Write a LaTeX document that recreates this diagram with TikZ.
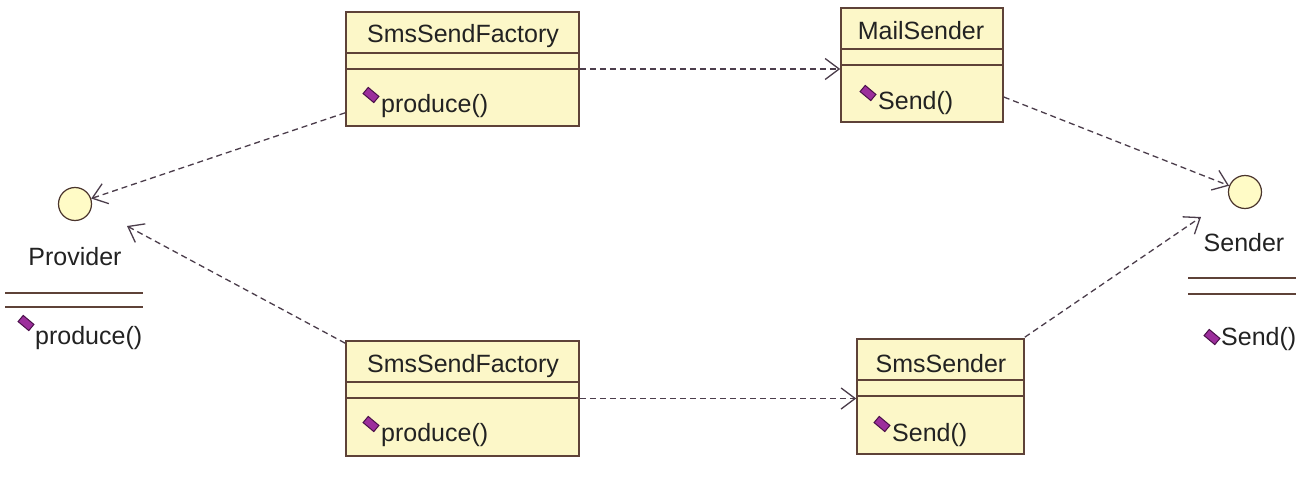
\documentclass[tikz,border=0pt]{standalone}
\usepackage{fontspec}
\setmainfont{Liberation Sans}
\usetikzlibrary{arrows.meta,calc,shapes.geometric}
\definecolor{boxfill}{HTML}{FCF7C8}
\definecolor{boxdraw}{HTML}{5E4238}
\definecolor{depcol}{HTML}{4B3D4B}
\definecolor{ifill}{HTML}{FFFBC6}
\definecolor{txtcol}{HTML}{222222}
\definecolor{diafill}{HTML}{9C2E9C}
\definecolor{diadraw}{HTML}{4A104A}
\tikzset{
  classbox/.style={draw=boxdraw, fill=boxfill, line width=1.6pt, rectangle, inner sep=0pt},
  sepline/.style={draw=boxdraw, line width=1.5pt},
  iface/.style={circle, draw=boxdraw!80!black, fill=ifill, line width=1.2pt, minimum size=33pt, inner sep=0pt},
  lbl/.style={font=\fontsize{25}{29}\selectfont, text=txtcol, inner sep=0pt},
  opdia/.style={rectangle, draw=diadraw, fill=diafill, line width=1pt, minimum width=14pt, minimum height=8pt, inner sep=0pt, rotate=-40},
  dep/.style={draw=depcol, line width=1.3pt, dash pattern=on 6pt off 4pt, -{Straight Barb[length=14pt,width=21pt,line width=1.3pt]}},
}
\begin{document}
\begin{tikzpicture}[x=1pt,y=-1pt]
\useasboundingbox[fill=white] (0,0) rectangle (1301,487);

% class boxes
\node[classbox, minimum width=233pt, minimum height=114pt] (f1) at (462.5,69) {};
\node[classbox, minimum width=233pt, minimum height=115pt] (f2) at (462.5,398.5) {};
\node[classbox, minimum width=162pt, minimum height=114pt] (mail) at (922,65) {};
\node[classbox, minimum width=167pt, minimum height=115pt] (sms) at (940.5,396.5) {};

% compartments
\foreach \b in {f1,f2,mail,sms}{
  \draw[sepline] ($(\b.north west)+(0,42)$) -- ($(\b.north east)+(0,42)$);
  \draw[sepline] ($(\b.north west)+(0,58)$) -- ($(\b.north east)+(0,58)$);
}

% names
\node[lbl, anchor=base] (f1name) at (463,42.5) {SmsSendFactory};
\node[lbl, anchor=base] (f2name) at (463,372) {SmsSendFactory};
\node[lbl, anchor=base] (mailname) at (921,40) {MailSender};
\node[lbl, anchor=base] (smsname) at (941,372) {SmsSender};

% operations
\node[opdia] (d1) at (371,95) {};
\node[lbl, anchor=base west] (op1) at (381,112) {produce()};
\node[opdia] (d2) at (371,424) {};
\node[lbl, anchor=base west] (op2) at (381,441) {produce()};
\node[opdia] (d3) at (868,93) {};
\node[lbl, anchor=base west] (op3) at (878,109) {Send()};
\node[opdia] (d4) at (882,424) {};
\node[lbl, anchor=base west] (op4) at (892,441) {Send()};

% interfaces
\node[iface] (prov) at (75,204) {};
\node[lbl, anchor=base] (provname) at (75,265) {Provider};
\draw[sepline] (5,293) -- (143,293);
\draw[sepline] (5,307) -- (143,307);
\node[opdia] (d5) at (26,323) {};
\node[lbl, anchor=base west] (op5) at (35,344) {produce()};

\node[iface] (send) at (1245,192) {};
\node[lbl, anchor=base] (sendname) at (1244,251) {Sender};
\draw[sepline] (1188,278) -- (1296,278);
\draw[sepline] (1188,294) -- (1296,294);
\node[opdia] (d6) at (1212,337) {};
\node[lbl, anchor=base west] (op6) at (1221,345) {Send()};

% dependencies
\coordinate (provtip) at (127,226);
\coordinate (sendtip) at (1201,217);
\draw[dep] (f1.east) -- (f1.east -| mail.west);
\draw[dep] (f2.east) -- (f2.east -| sms.west);
\draw[dep] ($(f1.south west)+(0,-14)$) -- (prov);
\draw[dep] ($(f2.north west)+(0,3)$) -- (provtip);
\draw[dep] ($(mail.east)+(0,32)$) -- (send);
\draw[dep] ($(sms.north east)+(0,-1)$) -- (sendtip);
\end{tikzpicture}
\end{document}
